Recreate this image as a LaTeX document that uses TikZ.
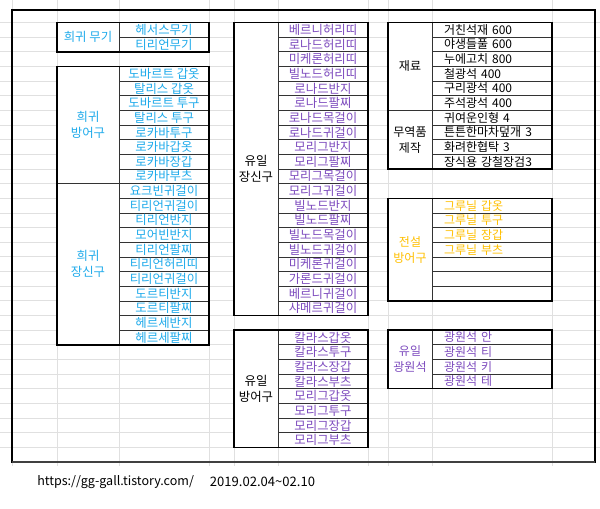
\documentclass[tikz,border=0pt]{standalone}
\usepackage{fontspec}
\setmainfont{Noto Sans CJK KR}
\usepackage{xcolor}
\usepackage{tikz}
\usetikzlibrary{positioning}

\definecolor{rareblue}{RGB}{30,170,235}
\definecolor{uniqpurple}{RGB}{125,75,190}
\definecolor{epicgold}{RGB}{255,192,0}

\begin{document}
\begin{tikzpicture}[x=0.75pt, y=-0.75pt,
    sheet/.style={draw=black!12, line width=0.6pt},
    cell/.style={rectangle, draw=black!80, fill=white, line width=0.5pt, inner sep=0pt, outer sep=0pt, minimum height=10.99pt, align=center, font=\fontsize{9.3}{12}\selectfont},
    item/.style={cell, minimum width=67.5pt},
    note/.style={cell, minimum width=90pt, text width=72pt, inner xsep=9pt, align=left, font=\fontsize{9}{12}\selectfont},
    tablebox/.style={draw, line width=1.1pt},
    rare/.style={text=rareblue},
    uniq/.style={text=uniqpurple},
    epic/.style={text=epicgold}
]
    \useasboundingbox (0,0) rectangle (600,509);
    \foreach \k in {0,...,29}
        \draw[sheet] (0,{22.5+14.65*\k}) -- (600,{22.5+14.65*\k});
    \foreach \x in {12,57,119,209,234,278,368,388,432,552}
        \draw[sheet] (\x,0) -- (\x,466);
    \draw[line width=0.8pt] (12,10) rectangle (595,462);
    \draw[line width=1.5pt, black!75] (12,462) -- (595,462);

    \node[cell, rare, minimum width=46.5pt, minimum height=21.98pt] (rarewpn) at (88,37.15) {희귀 무기};
    \foreach \txt [count=\i from 0] in {헤서스무기,티리언무기}
        \node[item, rare] (rarewpn\i) at (164,{22.5+14.65*(\i+0.5)}) {\txt};
    \draw[tablebox] (rarewpn.north west) rectangle (rarewpn1.south east);

    \node[cell, rare, minimum width=46.5pt, minimum height=87.92pt] (rarearm) at (88,125.05) {희귀\\방어구};
    \foreach \txt [count=\i from 0] in {도바르트 갑옷,탈리스 갑옷,도바르트 투구,탈리스 투구,로카바투구,로카바갑옷,로카바장갑,로카바부츠}
        \node[item, rare] (rarearm\i) at (164,{22.5+14.65*(\i+3.5)}) {\txt};
    \node[cell, rare, minimum width=46.5pt, minimum height=120.89pt] (rareacc) at (88,264.2) {희귀\\장신구};
    \foreach \txt [count=\i from 0] in {요크빈귀걸이,티리언귀걸이,티리언반지,모어빈반지,티리언팔찌,티리언허리띠,티리언귀걸이,도르티반지,도르티팔찌,헤르세반지,헤르세팔찌}
        \node[item, rare] (rareacc\i) at (164,{22.5+14.65*(\i+11.5)}) {\txt};
    \draw[tablebox] (rarearm.north west) rectangle (rareacc10.south east);

    \node[cell, minimum width=33pt, minimum height=219.8pt] (uniqacc) at (256,169) {유일\\장신구};
    \foreach \txt [count=\i from 0] in {베르니허리띠,로나드허리띠,미케론허리띠,빌노드허리띠,로나드반지,로나드팔찌,로나드목걸이,로나드귀걸이,모리그반지,모리그팔찌,모리그목걸이,모리그귀걸이,빌노드반지,빌노드팔찌,빌노드목걸이,빌노드귀걸이,미케론귀걸이,가론드귀걸이,베르니귀걸이,샤메르귀걸이}
        \node[item, uniq] (uniqacc\i) at (323,{22.5+14.65*(\i+0.5)}) {\txt};
    \draw[tablebox] (uniqacc.north west) rectangle (uniqacc19.south east);

    \node[cell, minimum width=33pt, minimum height=87.92pt] (uniqarm) at (256,388.75) {유일\\방어구};
    \foreach \txt [count=\i from 0] in {칼라스갑옷,칼라스투구,칼라스장갑,칼라스부츠,모리그갑옷,모리그투구,모리그장갑,모리그부츠}
        \node[item, uniq] (uniqarm\i) at (323,{22.5+14.65*(\i+21.5)}) {\txt};
    \draw[tablebox] (uniqarm.north west) rectangle (uniqarm7.south east);

    \node[cell, minimum width=33pt, minimum height=65.94pt, font=\fontsize{9}{12}\selectfont] (matl) at (410,66.45) {재료};
    \foreach \txt [count=\i from 0] in {거친석재 600,야생들풀 600,누에고치 800,철광석 400,구리광석 400,주석광석 400}
        \node[note] (matl\i) at (492,{22.5+14.65*(\i+0.5)}) {\txt};
    \node[cell, minimum width=33pt, minimum height=43.96pt, font=\fontsize{9}{12}\selectfont] (trade) at (410,139.7) {무역품\\제작};
    \foreach \txt [count=\i from 0] in {귀여운인형 4,튼튼한마차덮개 3,화려한협탁 3,장식용 강철장검3}
        \node[note] (trade\i) at (492,{22.5+14.65*(\i+6.5)}) {\txt};
    \draw[tablebox] (matl.north west) rectangle (trade3.south east);

    \node[cell, epic, minimum width=33pt, minimum height=76.93pt, font=\fontsize{9}{12}\selectfont] (epicarm) at (410,249.6) {전설\\방어구};
    \foreach \txt [count=\i from 0] in {그루닐 갑옷,그루닐 투구,그루닐 장갑,그루닐 부츠,{},{},{}}
        \node[note, epic] (epicarm\i) at (492,{22.5+14.65*(\i+12.5)}) {\txt};
    \draw[tablebox] (epicarm.north west) rectangle (epicarm6.south east);

    \node[cell, uniq, minimum width=33pt, minimum height=43.96pt, font=\fontsize{9}{12}\selectfont] (uniqlamp) at (410,359.45) {유일\\광원석};
    \foreach \txt [count=\i from 0] in {광원석 안,광원석 티,광원석 키,광원석 테}
        \node[note, uniq] (uniqlamp\i) at (492,{22.5+14.65*(\i+21.5)}) {\txt};
    \draw[tablebox] (uniqlamp.north west) rectangle (uniqlamp3.south east);

    \node[anchor=west, inner sep=0pt, font=\fontsize{9.4}{10}\selectfont] (site) at (37,482) {https://gg-gall.tistory.com/};
    \node[anchor=west, inner sep=0pt, font=\fontsize{9.8}{10}\selectfont] (period) at (209.6,482) {2019.02.04\textasciitilde02.10};
\end{tikzpicture}
\end{document}
